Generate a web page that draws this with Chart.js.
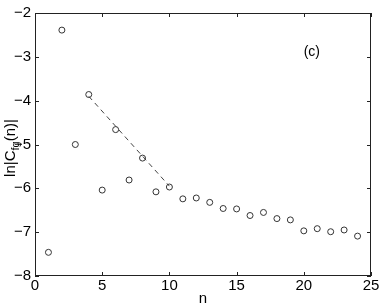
<!DOCTYPE html>
<html>
<head>
<meta charset="utf-8">
<script src="https://cdn.jsdelivr.net/npm/chart.js@4"></script>
<style>
  body { margin: 0; background: #fff; }
  canvas { display: block; }
</style>
</head>
<body>
<canvas id="chart" width="382" height="308"></canvas>
<script>
// data
const nValues = [1, 2, 3, 4, 5, 6, 7, 8, 9, 10, 11, 12, 13, 14, 15, 16, 17, 18, 19, 20, 21, 22, 23, 24];
const lnC = [-7.46, -2.39, -5.0, -3.86, -6.04, -4.66, -5.81, -5.31, -6.08, -5.97, -6.24, -6.22,
             -6.32, -6.46, -6.47, -6.62, -6.55, -6.69, -6.72, -6.97, -6.92, -6.99, -6.95, -7.09];
const fitN = [4, 10];
const fitY = [-3.9, -5.95];
const xTicks = [0, 5, 10, 15, 20, 25];
const yTicks = [-8, -7, -6, -5, -4, -3, -2];

const FONT = "'Liberation Sans', Arial, sans-serif";

// frame, inward ticks, panel label, y title with subscript
const decorations = {
    id: 'decorations',
    afterDraw(chart) {
        const ctx = chart.ctx;
        const a = chart.chartArea;
        const xs = chart.scales.x, ys = chart.scales.y;
        ctx.save();
        ctx.strokeStyle = '#222';
        ctx.lineWidth = 1;
        ctx.strokeRect(a.left + 0.5, a.top + 0.5, a.right - a.left - 1, a.bottom - a.top - 1);
        ctx.beginPath();
        xTicks.forEach(v => {
            const px = Math.round(xs.getPixelForValue(v)) + 0.5;
            ctx.moveTo(px, a.bottom); ctx.lineTo(px, a.bottom - 4);
            ctx.moveTo(px, a.top); ctx.lineTo(px, a.top + 4);
        });
        yTicks.forEach(v => {
            const py = Math.round(ys.getPixelForValue(v)) + 0.5;
            ctx.moveTo(a.left, py); ctx.lineTo(a.left + 4, py);
            ctx.moveTo(a.right, py); ctx.lineTo(a.right - 4, py);
        });
        ctx.stroke();

        // panel label
        ctx.fillStyle = '#000';
        ctx.font = '14px ' + FONT;
        ctx.textAlign = 'center';
        ctx.textBaseline = 'middle';
        ctx.fillText('(c)', xs.getPixelForValue(20.6), ys.getPixelForValue(-2.9));

        // y axis title: ln|C_fg(n)|
        ctx.translate(10, 148);
        ctx.rotate(-Math.PI / 2);
        ctx.textBaseline = 'alphabetic';
        ctx.textAlign = 'left';
        const big = '15px ' + FONT, small = '11px ' + FONT;
        const parts = [['ln|C', big, 0], ['fg', small, 4], ['(n)|', big, 0]];
        let total = 0;
        parts.forEach(p => { ctx.font = p[1]; total += ctx.measureText(p[0]).width; });
        let x = -total / 2;
        parts.forEach(p => {
            ctx.font = p[1];
            ctx.fillText(p[0], x, 5 + p[2]);
            x += ctx.measureText(p[0]).width;
        });
        ctx.restore();
    }
};

new Chart(document.getElementById('chart'), {
    type: 'scatter',
    data: {
        datasets: [{
            label: 'ln|C|',
            data: nValues.map((n, i) => ({ x: n, y: lnC[i] })),
            showLine: false,
            pointStyle: 'circle',
            pointRadius: 3,
            pointBorderWidth: 1,
            pointBorderColor: '#333',
            pointBackgroundColor: 'rgba(0,0,0,0)'
        }, {
            label: 'fit',
            data: fitN.map((n, i) => ({ x: n, y: fitY[i] })),
            showLine: true,
            borderColor: '#444',
            borderWidth: 1,
            borderDash: [5, 4],
            pointRadius: 0
        }]
    },
    options: {
        responsive: false,
        animation: false,
        layout: { padding: { top: 11, right: 11, left: 0, bottom: 0 } },
        plugins: { legend: { display: false }, tooltip: { enabled: false } },
        scales: {
            x: {
                type: 'linear',
                min: 0, max: 25,
                afterFit(s) { s.height = 32; },
                afterBuildTicks(s) { s.ticks = xTicks.map(v => ({ value: v })); },
                grid: { display: false, drawTicks: false },
                border: { display: false },
                ticks: { color: '#000', padding: 1, font: { family: FONT, size: 15 } },
                title: { display: true, text: 'n', color: '#000', padding: 0, font: { family: FONT, size: 15 } }
            },
            y: {
                type: 'linear',
                min: -8, max: -2,
                afterFit(s) { s.width = 35; },
                afterBuildTicks(s) { s.ticks = yTicks.map(v => ({ value: v })); },
                grid: { display: false, drawTicks: false },
                border: { display: false },
                ticks: {
                    color: '#000', padding: 4, font: { family: FONT, size: 15 },
                    callback: v => String(v).replace('-', '\u2212')
                }
            }
        }
    },
    plugins: [decorations]
});
</script>
</body>
</html>
